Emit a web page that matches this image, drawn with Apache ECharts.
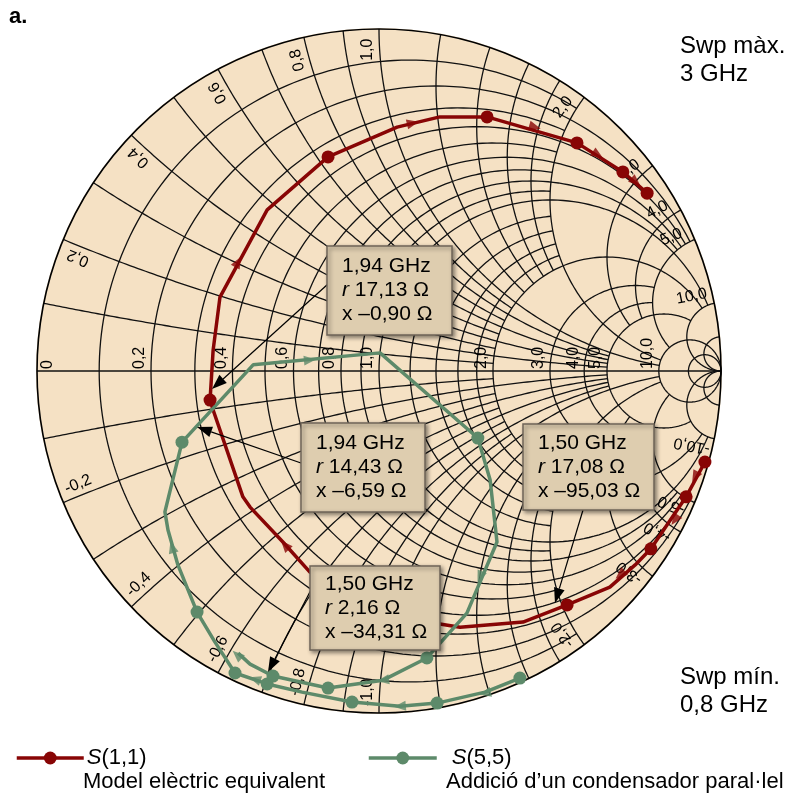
<!DOCTYPE html>
<html>
<head>
<meta charset="utf-8">
<script src="https://cdn.jsdelivr.net/npm/echarts@6/dist/echarts.min.js"></script>
<style>
html,body{margin:0;padding:0;background:#ffffff;}
#chart{width:791px;height:796px;}
</style>
</head>
<body>
<div id="chart"></div>
<script>
// ---------- Traces: reflection coefficient Γ = [Re, Im] ----------
const s11Gamma = [
  [0.953,-0.266],[0.898,-0.368],[0.795,-0.520],[0.749,-0.567],[0.675,-0.632],
  [0.550,-0.684],[0.421,-0.734],[0.237,-0.749],[0.178,-0.740],[-0.202,-0.588],
  [-0.281,-0.500],[-0.377,-0.398],[-0.398,-0.368],[-0.485,-0.114],[-0.494,-0.085],
  [-0.485,0.061],[-0.465,0.216],[-0.327,0.471],[-0.149,0.626],[0.053,0.713],
  [0.178,0.743],[0.316,0.743],[0.579,0.667],[0.713,0.582],[0.784,0.520]
];
const s11MarkerIdx = [0,1,2,5,14,18,21,22,23,24];
const s11ArrowGamma = [
  [0.924,-0.310],[0.865,-0.436],[0.705,-0.596],[-0.275,-0.509],[-0.412,0.319],
  [0.099,0.725],[0.456,0.713],[0.640,0.632],[0.751,0.553]
];

const s55Gamma = [
  [0.412,-0.898],[0.310,-0.939],[0.170,-0.971],[0.061,-0.980],[-0.079,-0.968],
  [-0.225,-0.939],[-0.327,-0.915],[-0.421,-0.883],[-0.480,-0.792],[-0.532,-0.705],
  [-0.588,-0.567],[-0.617,-0.465],[-0.626,-0.412],[-0.576,-0.208],[-0.368,0.018],
  [0.003,0.053],[0.289,-0.196],[0.325,-0.319],[0.345,-0.500],[0.257,-0.708],
  [0.140,-0.839],[0.012,-0.904],[-0.149,-0.927],[-0.310,-0.892],[-0.377,-0.857],
  [-0.412,-0.825]
];
const s55MarkerIdx = [0,2,4,6,7,9,13,16,20,22,23];
const s55ArrowGamma = [
  [0.310,-0.942],[0.061,-0.980],[-0.605,-0.515],[-0.202,0.032],[0.295,-0.602],
  [0.012,-0.904],[-0.415,-0.830],[-0.363,-0.901]
];

// ---------- Smith grid: [value, extent of the other coordinate] ----------
const resistanceGrid = [
  [0.1,2],[0.2,5],[0.3,2],[0.4,5],[0.5,2],[0.6,5],[0.7,2],[0.8,5],[0.9,2],[1,10],
  [1.2,2],[1.4,2],[1.6,2],[1.8,2],[2,10],[3,5],[4,5],[5,10],[10,Infinity],[20,Infinity]
];
const reactanceGrid = [
  [0.1,2],[0.2,5],[0.3,2],[0.4,5],[0.5,2],[0.6,5],[0.7,2],[0.8,5],[0.9,2],[1,10],
  [1.2,2],[1.4,2],[1.6,2],[1.8,2],[2,10],[3,5],[4,5],[5,10],[10,Infinity],[20,Infinity]
];
const axisTickValues = [0,0.2,0.4,0.6,0.8,1,2,3,4,5,10];
const rimTickValues = [0.2,0.4,0.6,0.8,1,2,3,4,5,10];

// ---------- Annotations ----------
const annFreq = ['1,94 GHz','1,94 GHz','1,50 GHz','1,50 GHz'];
const annR = ['17,13','14,43','17,08','2,16'];
const annX = ['\u20130,90','\u20136,59','\u201395,03','\u201334,31'];

// layout (pixels) for annotation boxes and pointers
const boxLayout = [
  {x:327,y:246,w:125,h:89, from:[328,284], to:[212,389]},
  {x:301,y:423,w:124,h:89, from:[301,463], to:[197,427]},
  {x:523,y:424,w:131,h:86, from:[583,510], to:[555,603]},
  {x:310,y:566,w:130,h:84, from:[312,588], to:[268,672]}
];

const COL = {red:'#880505', green:'#5D8A6A', disc:'#F5E1C4', box:'#DECDAF', grid:'#111'};
const FONT = 'Liberation Sans, Arial, Helvetica, sans-serif';

// ---------- geometry helpers ----------
function gam(r,x){ const d=(r+1)*(r+1)+x*x; return [(r*r-1+x*x)/d, 2*x/d]; }
function arc(cx,cy,rad,a0,a1,n){ const p=[]; for(let i=0;i<=n;i++){const a=a0+(a1-a0)*i/n; p.push([cx+rad*Math.cos(a), cy+rad*Math.sin(a)]);} return p; }
const curves = [];
resistanceGrid.forEach(([r,xm])=>{
  const c=r/(1+r), rad=1/(1+r); let a=0;
  if(isFinite(xm)){ const p=gam(r,xm); a=Math.atan2(p[1],p[0]-c); }
  curves.push(arc(c,0,rad,a,2*Math.PI-a,180));
});
reactanceGrid.forEach(([x,rm])=>{
  const rad=1/x;
  const ang=r=>{ if(!isFinite(r)) return 1.5*Math.PI; const p=gam(r,x); let a=Math.atan2(p[1]-rad,p[0]-1); if(a<0)a+=2*Math.PI; return a; };
  const up=arc(1,rad,rad,ang(0),ang(rm),140);
  curves.push(up); curves.push(up.map(p=>[p[0],-p[1]]));
});
curves.push([[-1,0],[1,0]]);

const fmt = v => v===0 ? '0' : (Number.isInteger(v) ? v.toFixed(1) : String(v)).replace('.',',');

const labels = [];
axisTickValues.forEach(v=>{
  const g=[(v-1)/(v+1),0];
  labels.push({g, rot:Math.PI/2, text:fmt(v), align:'left', valign:'bottom', off: v===0?[19,-2]:[-3,-2]});
});
rimTickValues.forEach(v=>{
  const th=Math.atan2(2*v/(v*v+1),(v*v-1)/(v*v+1));
  const d=2*Math.PI/180, rr=0.94;
  labels.push({g:[rr*Math.cos(th+d), rr*Math.sin(th+d)], rot:th, text:fmt(v), align:'center', valign:'middle', off:[0,0]});
  labels.push({g:[rr*Math.cos(-(th+d)), rr*Math.sin(-(th+d))], rot:Math.PI-th, text:'-'+fmt(v), align:'center', valign:'middle', off:[0,0]});
});

function arrowRot(path, p){
  let best=1e9, ang=0;
  for(let i=0;i<path.length-1;i++){
    const a=path[i], b=path[i+1];
    const dx=b[0]-a[0], dy=b[1]-a[1];
    let t=((p[0]-a[0])*dx+(p[1]-a[1])*dy)/(dx*dx+dy*dy); t=Math.max(0,Math.min(1,t));
    const qx=a[0]+t*dx-p[0], qy=a[1]+t*dy-p[1]; const d=qx*qx+qy*qy;
    if(d<best){best=d; ang=Math.atan2(dy,dx);}
  }
  return ang*180/Math.PI-90;
}

const chart = echarts.init(document.getElementById('chart'), null, {renderer:'canvas'});

const traceSeries = (name, pts, idx, color) => ({
  name, type:'line', data: pts.map((p,i)=>({value:p, symbol: idx.includes(i)?'circle':'none'})),
  symbol:'circle', symbolSize:13, showAllSymbol:true, smooth:false,
  lineStyle:{color, width:3.5}, itemStyle:{color}, z:5, silent:true, animation:false
});
const arrowSeries = (name, pts, path, color) => ({
  name, type:'scatter', data: pts.map(p=>({value:p, symbolRotate: arrowRot(path,p)})),
  symbol:'triangle', symbolSize:[10,12], itemStyle:{color}, z:6, silent:true, animation:false
});

const graphics = [];
boxLayout.forEach((b,i)=>{
  const tx=b.to[0], ty=b.to[1], fx=b.from[0], fy=b.from[1];
  const a=Math.atan2(ty-fy,tx-fx), L=15, Wd=5.5;
  const bx=tx-L*Math.cos(a), by=ty-L*Math.sin(a);
  graphics.push({type:'line', shape:{x1:fx,y1:fy,x2:bx,y2:by}, style:{stroke:'#000',lineWidth:1.2}, z:100});
  graphics.push({type:'polygon', shape:{points:[[tx,ty],[bx-Wd*Math.sin(a), by+Wd*Math.cos(a)],[bx+Wd*Math.sin(a), by-Wd*Math.cos(a)]]}, style:{fill:'#000'}, z:100});
  graphics.push({type:'rect', shape:{x:b.x,y:b.y,width:b.w,height:b.h}, style:{fill:COL.box, stroke:'#6f6458', lineWidth:1.5, shadowBlur:4, shadowOffsetX:2, shadowOffsetY:2, shadowColor:'rgba(0,0,0,0.45)'}, z:101});
  graphics.push({type:'text', x:b.x+15, y:b.y+b.h/2, style:{text: annFreq[i]+'\n{i|r} '+annR[i]+' \u03A9\nx '+annX[i]+' \u03A9', rich:{i:{fontStyle:'italic', fontSize:21, fontFamily:FONT, fill:'#000'}}, fontSize:21, fontFamily:FONT, fill:'#000', lineHeight:24, align:'left', verticalAlign:'middle'}, z:102});
});
graphics.push({type:'text', x:9, y:17, style:{text:'a.', fontSize:22, fontWeight:'bold', fontFamily:FONT, fill:'#000', verticalAlign:'middle'}});
graphics.push({type:'text', x:680, y:60, style:{text:'Swp m\u00E0x.\n3 GHz', fontSize:24, fontFamily:FONT, fill:'#000', lineHeight:28, verticalAlign:'middle'}});
graphics.push({type:'text', x:680, y:691, style:{text:'Swp m\u00EDn.\n0,8 GHz', fontSize:24, fontFamily:FONT, fill:'#000', lineHeight:28, verticalAlign:'middle'}});
graphics.push({type:'text', x:83, y:782, style:{text:'Model el\u00E8ctric equivalent', fontSize:22, fontFamily:FONT, fill:'#000', verticalAlign:'middle'}});
graphics.push({type:'text', x:446, y:782, style:{text:'Addici\u00F3 d\u2019un condensador paral\u00B7lel', fontSize:22, fontFamily:FONT, fill:'#000', verticalAlign:'middle'}});

const legendText = {fontSize:22, fontFamily:FONT, color:'#000', rich:{i:{fontStyle:'italic', fontSize:22, fontFamily:FONT, color:'#000'}}};
const legFmt = n => '{i|S}' + n.slice(1);

chart.setOption({
  animation:false,
  backgroundColor:'#ffffff',
  grid:{left:37, top:29, width:684, height:684, containLabel:false},
  xAxis:{type:'value', min:-1, max:1, show:false},
  yAxis:{type:'value', min:-1, max:1, show:false},
  legend:[
    {data:['S(1,1)'], left:10, top:742, itemWidth:67, itemHeight:16, itemGap:0, formatter:legFmt, textStyle:Object.assign({padding:[0,0,0,-2]},legendText), selectedMode:false, lineStyle:{width:3.5}},
    {data:['S(5,5)'], left:362, top:742, itemWidth:68, itemHeight:16, itemGap:0, formatter:legFmt, textStyle:Object.assign({padding:[0,0,0,10]},legendText), selectedMode:false, lineStyle:{width:3.5}}
  ],
  graphic: graphics,
  series:[
    {type:'custom', name:'disc', coordinateSystem:'cartesian2d', data:[[0,0]], silent:true, z:0, clip:false,
      renderItem:(p,api)=>{ const c=api.coord([0,0]); const r=api.size([1,0])[0];
        return {type:'circle', shape:{cx:c[0],cy:c[1],r:r+1}, style:{fill:COL.disc}}; }},
    {type:'custom', name:'grid', coordinateSystem:'cartesian2d', data:curves.map(()=>[0,0]), silent:true, z:1, clip:false,
      renderItem:(p,api)=>({type:'polyline', shape:{points:curves[p.dataIndex].map(q=>api.coord(q))}, style:{stroke:COL.grid, lineWidth:1.3, fill:null}})},
    {type:'custom', name:'rim', coordinateSystem:'cartesian2d', data:[[0,0]], silent:true, z:2, clip:false,
      renderItem:(p,api)=>{ const c=api.coord([0,0]); const r=api.size([1,0])[0];
        return {type:'circle', shape:{cx:c[0],cy:c[1],r:r}, style:{fill:null, stroke:'#000', lineWidth:1.6}}; }},
    {type:'custom', name:'ticklabels', coordinateSystem:'cartesian2d', data:labels.map(()=>[0,0]), silent:true, z:3, clip:false,
      renderItem:(p,api)=>{ const L=labels[p.dataIndex]; const c=api.coord(L.g);
        return {type:'text', x:c[0]+L.off[0], y:c[1]+L.off[1], rotation:L.rot,
          style:{text:L.text, fontSize:16, fontFamily:FONT, fill:'#000', align:L.align, verticalAlign:L.valign}}; }},
    traceSeries('S(1,1)', s11Gamma, s11MarkerIdx, COL.red),
    traceSeries('S(5,5)', s55Gamma, s55MarkerIdx, COL.green),
    arrowSeries('s11dir', s11ArrowGamma, s11Gamma, COL.red),
    arrowSeries('s55dir', s55ArrowGamma, s55Gamma, COL.green)
  ]
});
</script>
</body>
</html>
